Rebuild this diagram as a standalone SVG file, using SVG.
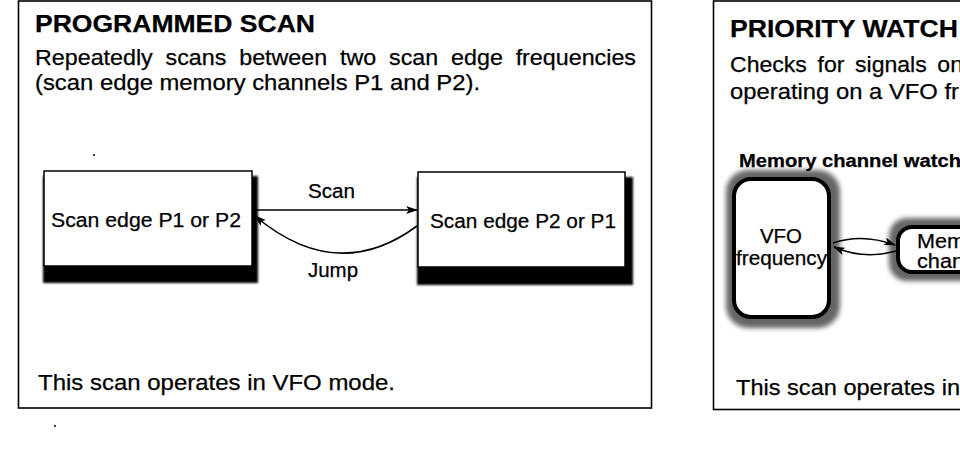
<svg xmlns="http://www.w3.org/2000/svg" width="960" height="450" viewBox="0 0 960 450">
<style>
  text { font-family: "Liberation Sans", Arial, Helvetica, sans-serif; fill: #000; stroke: #000; stroke-width: 0.25; }
  .title { font-size: 24px; font-weight: bold; }
  .body { font-size: 22px; }
  .lbl { font-size: 20px; }
  .sub { font-size: 18px; font-weight: bold; }
  .panel { fill: #fff; stroke: #000; stroke-width: 1.6; }
  .box { fill: #fff; stroke: #000; stroke-width: 1.5; }
  .rbox { fill: #fff; stroke: #000; stroke-width: 4; }
  .shadow { fill: #000; filter: url(#soft); }
  .halo { fill: #000; opacity: 0.6; filter: url(#halo); }
  .conn { fill: none; stroke: #000; stroke-width: 1.6; }
</style>
<defs>
  <filter id="soft" x="-10%" y="-10%" width="120%" height="130%">
    <feGaussianBlur stdDeviation="1"/>
  </filter>
  <filter id="halo" x="-30%" y="-30%" width="160%" height="160%">
    <feGaussianBlur stdDeviation="2.6"/>
  </filter>
  <marker id="arrow" viewBox="0 0 12 8" refX="11" refY="4" markerWidth="12" markerHeight="8" markerUnits="userSpaceOnUse" orient="auto">
    <path d="M0,0 L12,4 L0,8 L3,4 Z" fill="#000"/>
  </marker>
</defs>

<rect width="960" height="450" fill="#fff"/>

<!-- Left panel -->
<g id="panel-programmed-scan">
  <rect class="panel" x="18.5" y="1" width="633" height="407"/>
  <text class="title" x="35" y="32" textLength="280" lengthAdjust="spacingAndGlyphs">PROGRAMMED SCAN</text>
  <text class="body" x="35" y="65" textLength="601" lengthAdjust="spacingAndGlyphs" word-spacing="6">Repeatedly scans between two scan edge frequencies</text>
  <text class="body" x="35" y="90" textLength="445" lengthAdjust="spacingAndGlyphs">(scan edge memory channels P1 and P2).</text>
  <text class="body" x="38" y="390" textLength="357" lengthAdjust="spacingAndGlyphs">This scan operates in VFO mode.</text>
  <circle cx="94" cy="155" r="1" fill="#000"/>
  <circle cx="55" cy="426" r="1" fill="#000"/>
</g>

<g id="node-edge-p1">
  <rect class="shadow" x="43" y="176" width="215" height="107"/>
  <rect class="box" x="44" y="171" width="208" height="95"/>
  <text class="lbl" x="51" y="227" textLength="190" lengthAdjust="spacingAndGlyphs">Scan edge P1 or P2</text>
</g>

<g id="node-edge-p2">
  <rect class="shadow" x="417" y="177" width="216" height="108"/>
  <rect class="box" x="418" y="172" width="207" height="95"/>
  <text class="lbl" x="430" y="228" textLength="186" lengthAdjust="spacingAndGlyphs">Scan edge P2 or P1</text>
</g>

<!-- Right panel -->
<g id="panel-priority-watch">
  <rect class="panel" x="713.5" y="1" width="270" height="408.5"/>
  <text class="title" x="730" y="37" textLength="228" lengthAdjust="spacingAndGlyphs">PRIORITY WATCH</text>
  <text class="body" x="730" y="72" textLength="233" lengthAdjust="spacingAndGlyphs" word-spacing="4">Checks for signals on</text>
  <text class="body" x="730" y="99" textLength="229" lengthAdjust="spacingAndGlyphs">operating on a VFO fr</text>
  <text class="sub" x="739" y="167" textLength="222" lengthAdjust="spacingAndGlyphs">Memory channel watch</text>
  <text class="body" x="736" y="395" textLength="224" lengthAdjust="spacingAndGlyphs">This scan operates in</text>
</g>

<g id="node-vfo">
  <rect class="halo" x="726" y="170" width="114" height="158" rx="22"/>
  <rect class="rbox" x="734" y="179" width="95" height="138" rx="17"/>
  <text class="lbl" x="781" y="243" text-anchor="middle" textLength="42" lengthAdjust="spacingAndGlyphs">VFO</text>
  <text class="lbl" x="736" y="265" textLength="91" lengthAdjust="spacingAndGlyphs">frequency</text>
</g>

<g id="node-memory-channel">
  <rect class="halo" x="889" y="218" width="110" height="63" rx="18"/>
  <rect class="rbox" x="898" y="227" width="90" height="45" rx="14"/>
  <text class="lbl" x="917" y="248" textLength="48" lengthAdjust="spacingAndGlyphs">Mem</text>
  <text class="lbl" x="917" y="268" textLength="47" lengthAdjust="spacingAndGlyphs">chan</text>
</g>

<!-- Connectors -->
<g id="connectors">
  <path class="conn" d="M254,210 L417,210" marker-end="url(#arrow)"/>
  <path class="conn" d="M417,226 Q337,285 255,216" marker-end="url(#arrow)"/>
  <text class="lbl" x="308" y="198" textLength="47" lengthAdjust="spacingAndGlyphs">Scan</text>
  <text class="lbl" x="308" y="277" textLength="50" lengthAdjust="spacingAndGlyphs">Jump</text>
  <path class="conn" d="M833,243 Q862,233 895,245" marker-end="url(#arrow)"/>
  <path class="conn" d="M896,251 Q864,260 834,247" marker-end="url(#arrow)"/>
</g>
</svg>
